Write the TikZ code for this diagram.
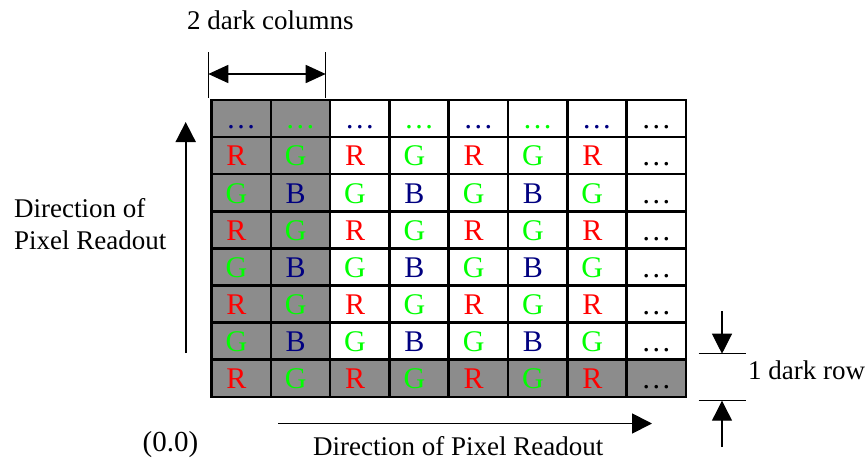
\documentclass[tikz,border=0pt]{standalone}
\usepackage{fontspec}
\setmainfont{Liberation Serif}
\usetikzlibrary{arrows.meta}
\definecolor{cR}{RGB}{255,0,0}
\definecolor{cG}{RGB}{0,255,0}
\definecolor{cB}{RGB}{0,0,128}
\definecolor{darkcell}{RGB}{140,140,140}
\begin{document}
\begin{tikzpicture}[x=1pt,y=-1pt,
  lbl/.style={font=\fontsize{27}{32}\selectfont, inner sep=0pt},
  celltxt/.style={font=\fontsize{30}{34}\selectfont, inner sep=0pt, anchor=base},
  gridline/.style={line width=2.5pt, black, line cap=rect},
  arr/.style={line width=1.8pt, -{Triangle[length=20pt,width=20pt]}},
  dimline/.style={line width=1.2pt},
  dimarr/.style={line width=1.2pt, -{Triangle[length=20pt,width=20pt]}}]
\useasboundingbox (0,0) rectangle (865,461);
\def\W{59.3}\def\H{37.1}\def\X{211.5}\def\Y{100}
% dark fills
\fill[darkcell] (\X,\Y) rectangle ({\X+2*\W},{\Y+8*\H});
\fill[darkcell] (\X,{\Y+7*\H}) rectangle ({\X+8*\W},{\Y+8*\H});
% grid
\foreach \i in {0,...,8}{
  \draw[gridline] ({\X+\i*\W},\Y) -- ({\X+\i*\W},{\Y+8*\H});
  \draw[gridline] (\X,{\Y+\i*\H}) -- ({\X+8*\W},{\Y+\i*\H});
}
% cell texts
\foreach \r/\row in {
  1/{cB/…/0,cG/…/0,cB/…/0,cG/…/0,cB/…/0,cG/…/0,cB/…/0,black/…/0},
  2/{cR/R/-4.7,cG/G/-4.7,cR/R/-4.7,cG/G/-4.7,cR/R/-4.7,cG/G/-4.7,cR/R/-4.7,black/…/0},
  3/{cG/G/-4.7,cB/B/-4.7,cG/G/-4.7,cB/B/-4.7,cG/G/-4.7,cB/B/-4.7,cG/G/-4.7,black/…/0},
  4/{cR/R/-4.7,cG/G/-4.7,cR/R/-4.7,cG/G/-4.7,cR/R/-4.7,cG/G/-4.7,cR/R/-4.7,black/…/0},
  5/{cG/G/-4.7,cB/B/-4.7,cG/G/-4.7,cB/B/-4.7,cG/G/-4.7,cB/B/-4.7,cG/G/-4.7,black/…/0},
  6/{cR/R/-4.7,cG/G/-4.7,cR/R/-4.7,cG/G/-4.7,cR/R/-4.7,cG/G/-4.7,cR/R/-4.7,black/…/0},
  7/{cG/G/-4.7,cB/B/-4.7,cG/G/-4.7,cB/B/-4.7,cG/G/-4.7,cB/B/-4.7,cG/G/-4.7,black/…/0},
  8/{cR/R/-4.7,cG/G/-4.7,cR/R/-4.7,cG/G/-4.7,cR/R/-4.7,cG/G/-4.7,cR/R/-4.7,black/…/0}}{
  \foreach \col/\txt/\sh [count=\c] in \row{
    \node[celltxt, text=\col] (cell-\r-\c) at ({\X+(\c-0.5)*\W+\sh},{\Y+\r*\H-8.3}) {\txt};
  }
}
% vertical readout arrow
\coordinate (vA) at (185.7,353);
\coordinate (vB) at (185.7,122);
\draw[arr] (vA) -- (vB);
% horizontal readout arrow
\coordinate (hA) at (278,423.5);
\coordinate (hB) at (652,423.5);
\draw[arr] (hA) -- (hB);
% top dimension
\coordinate (dL0) at (208.3,52);
\coordinate (dL1) at (208.3,98);
\coordinate (dR0) at (325.7,52);
\coordinate (dR1) at (325.7,98);
\coordinate (dLa) at (208.3,74);
\coordinate (dRa) at (325.7,74);
\draw[dimline] (dL0) -- (dL1);
\draw[dimline] (dR0) -- (dR1);
\draw[line width=1.6pt, {Triangle[length=20pt,width=18pt]}-{Triangle[length=20pt,width=18pt]}] (dLa) -- (dRa);
% right dimension
\coordinate (rT0) at (722,311);
\coordinate (rT1) at (722,353.7);
\coordinate (rB0) at (722,447);
\coordinate (rB1) at (722,400.7);
\coordinate (tkA0) at (698.7,353.7);
\coordinate (tkA1) at (745.7,353.7);
\coordinate (tkB0) at (698.7,400.7);
\coordinate (tkB1) at (745.7,400.7);
\draw[dimarr] (rT0) -- (rT1);
\draw[dimarr] (rB0) -- (rB1);
\draw[dimline] (tkA0) -- (tkA1);
\draw[dimline] (tkB0) -- (tkB1);
% labels
\node[lbl,anchor=base west] (t2dark) at (187,29.3) {2 dark columns};
\node[lbl,anchor=base west] (tdir1) at (14,217.7) {Direction of};
\node[lbl,anchor=base west] (tdir2) at (14,249.3) {Pixel Readout};
\node[lbl,anchor=base,font=\fontsize{29}{32}\selectfont] (torig) at (170.5,451) {(0.0)};
\node[lbl,anchor=base west] (tdirb) at (313,455) {Direction of Pixel Readout};
\node[lbl,anchor=base west] (t1dark) at (748,379) {1 dark row};
\end{tikzpicture}
\end{document}
